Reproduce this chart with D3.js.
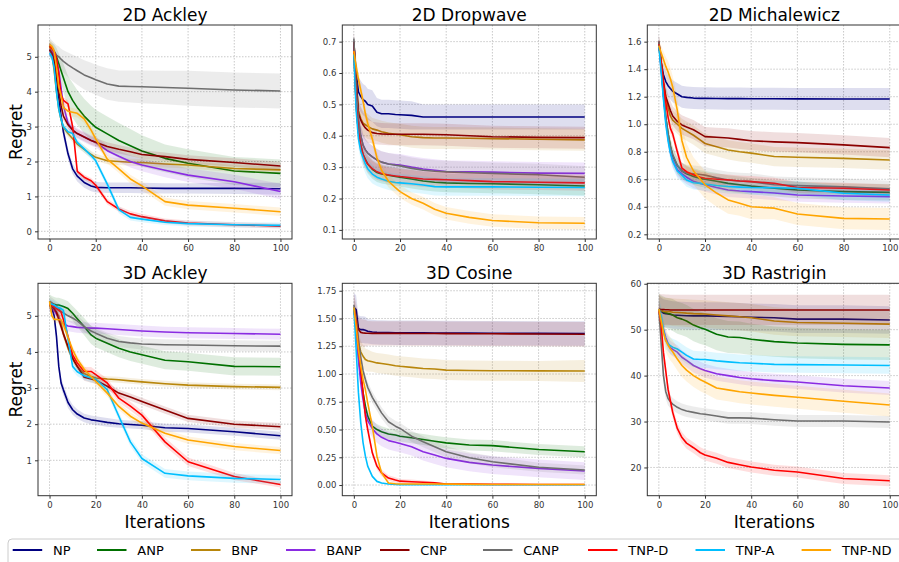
<!DOCTYPE html>
<html lang="en">
<head>
<meta charset="UTF-8">
<title>Regret curves</title>
<script src="https://d3js.org/d3.v7.min.js"></script>
<style>
  body { margin: 0; background: #fff; }
  svg text { font-family: "DejaVu Sans", sans-serif; }
</style>
</head>
<body>
<svg id="chart" width="899" height="562"></svg>
<script>
// iterations at which the curves were read
const iters = [0, 1, 2, 3, 4, 5, 6, 8, 10, 12, 15, 18, 20, 25, 30, 35, 40, 50, 60, 80, 100];
const methods = ["NP", "ANP", "BNP", "BANP", "CNP", "CANP", "TNP-D", "TNP-A", "TNP-ND"];
const colors = ["#000080", "#007000", "#b8860b", "#8a2be2", "#8b0000", "#6e6e6e", "#ff0000", "#00bfff", "#ffa500"];
const xTicks = [0, 20, 40, 60, 80, 100];

// ---- 2D Ackley (rows follow `methods`)
const ackley2dMean = [
  [5.2,5.1,4.85,4.4,3.8,3.3,2.85,2.22,1.79,1.58,1.4,1.3,1.26,1.25,1.25,1.25,1.24,1.23,1.23,1.23,1.22],
  [5.3,5.25,5.15,5.0,4.8,4.6,4.4,4.0,3.75,3.55,3.3,3.1,2.98,2.79,2.6,2.45,2.3,2.09,1.95,1.73,1.66],
  [5.3,5.1,4.6,4.0,3.5,3.2,2.98,2.8,2.65,2.5,2.35,2.2,2.12,2.02,2.0,1.98,1.97,1.93,1.9,1.8,1.76],
  [5.2,5.15,5.05,4.9,4.6,4.1,3.6,3.1,2.9,2.8,2.7,2.6,2.55,2.31,2.15,2.0,1.9,1.75,1.61,1.42,1.14],
  [5.2,5.1,4.9,4.5,4.0,3.6,3.3,3.05,2.9,2.8,2.7,2.6,2.55,2.43,2.35,2.28,2.2,2.14,2.06,1.97,1.87],
  [5.35,5.25,5.15,5.05,5.0,4.93,4.87,4.77,4.68,4.6,4.48,4.4,4.34,4.22,4.16,4.15,4.14,4.12,4.1,4.05,4.02],
  [5.3,5.25,5.15,4.95,4.5,3.9,3.75,3.65,3.0,1.72,1.55,1.45,1.32,0.85,0.64,0.5,0.42,0.3,0.24,0.19,0.15],
  [5.1,5.0,4.7,4.0,3.5,3.2,3.0,2.85,2.8,2.55,2.36,2.17,2.02,1.35,0.62,0.4,0.35,0.26,0.22,0.19,0.17],
  [5.35,5.3,5.17,4.7,4.13,3.9,3.55,3.44,3.41,3.38,3.22,2.9,2.65,2.07,1.79,1.5,1.3,0.85,0.75,0.66,0.56]
];
const ackley2dSd = [
  [0.2,0.2,0.2,0.2,0.2,0.2,0.18,0.16,0.15,0.15,0.15,0.15,0.15,0.15,0.15,0.15,0.15,0.15,0.15,0.16,0.17],
  [0.15,0.15,0.2,0.25,0.3,0.35,0.4,0.45,0.5,0.5,0.5,0.5,0.5,0.5,0.5,0.48,0.45,0.4,0.4,0.4,0.4],
  [0.15,0.15,0.15,0.15,0.12,0.12,0.12,0.1,0.1,0.1,0.1,0.1,0.1,0.1,0.1,0.1,0.1,0.1,0.1,0.1,0.1],
  [0.15,0.15,0.15,0.15,0.15,0.15,0.15,0.15,0.15,0.15,0.15,0.15,0.15,0.15,0.16,0.17,0.18,0.2,0.2,0.2,0.22],
  [0.15,0.15,0.15,0.15,0.15,0.12,0.12,0.12,0.12,0.12,0.12,0.12,0.12,0.12,0.12,0.12,0.12,0.12,0.12,0.12,0.12],
  [0.2,0.22,0.25,0.28,0.3,0.3,0.32,0.35,0.38,0.4,0.42,0.43,0.43,0.45,0.45,0.46,0.47,0.48,0.5,0.5,0.5],
  [0.1,0.1,0.1,0.1,0.1,0.1,0.1,0.1,0.1,0.08,0.08,0.08,0.08,0.08,0.08,0.08,0.08,0.07,0.07,0.07,0.07],
  [0.1,0.1,0.1,0.1,0.1,0.1,0.1,0.1,0.1,0.1,0.1,0.1,0.1,0.1,0.1,0.09,0.09,0.08,0.08,0.08,0.08],
  [0.12,0.12,0.12,0.12,0.12,0.12,0.12,0.12,0.12,0.12,0.12,0.12,0.12,0.12,0.12,0.12,0.12,0.12,0.12,0.12,0.12]
];
const ackley2dTicks = [0, 1, 2, 3, 4, 5];

// ---- 2D Dropwave
const dropwaveMean = [
  [0.69,0.6,0.54,0.525,0.515,0.51,0.5,0.495,0.475,0.47,0.47,0.468,0.467,0.465,0.46,0.46,0.46,0.46,0.46,0.46,0.46],
  [0.67,0.5,0.41,0.37,0.34,0.325,0.31,0.293,0.283,0.278,0.274,0.27,0.268,0.262,0.256,0.252,0.25,0.248,0.247,0.244,0.24],
  [0.7,0.58,0.48,0.455,0.44,0.435,0.43,0.422,0.418,0.413,0.408,0.405,0.403,0.397,0.394,0.393,0.393,0.392,0.391,0.389,0.387],
  [0.7,0.55,0.45,0.4,0.37,0.355,0.345,0.333,0.323,0.316,0.31,0.308,0.307,0.3,0.294,0.29,0.286,0.285,0.284,0.281,0.28],
  [0.7,0.58,0.47,0.45,0.435,0.425,0.418,0.41,0.407,0.406,0.405,0.405,0.405,0.405,0.405,0.404,0.403,0.4,0.397,0.395,0.394],
  [0.71,0.55,0.45,0.4,0.37,0.355,0.345,0.333,0.323,0.316,0.31,0.306,0.304,0.296,0.29,0.287,0.285,0.282,0.28,0.276,0.268],
  [0.67,0.5,0.41,0.37,0.34,0.322,0.31,0.295,0.285,0.28,0.275,0.272,0.27,0.266,0.262,0.261,0.26,0.257,0.254,0.252,0.25],
  [0.66,0.48,0.39,0.35,0.33,0.31,0.295,0.278,0.268,0.262,0.255,0.251,0.25,0.247,0.243,0.238,0.237,0.237,0.237,0.236,0.235],
  [0.67,0.62,0.58,0.545,0.51,0.47,0.44,0.39,0.33,0.29,0.255,0.235,0.222,0.2,0.185,0.166,0.153,0.14,0.13,0.123,0.121]
];
const dropwaveSd = [
  [0.03,0.05,0.05,0.05,0.05,0.05,0.05,0.05,0.045,0.045,0.045,0.045,0.045,0.045,0.04,0.04,0.04,0.04,0.04,0.04,0.04],
  [0.03,0.03,0.03,0.03,0.03,0.03,0.03,0.03,0.03,0.03,0.03,0.03,0.03,0.03,0.03,0.03,0.03,0.03,0.03,0.03,0.03],
  [0.03,0.04,0.04,0.04,0.04,0.04,0.04,0.035,0.035,0.035,0.035,0.035,0.035,0.035,0.035,0.035,0.035,0.035,0.035,0.035,0.035],
  [0.03,0.035,0.035,0.035,0.035,0.035,0.035,0.035,0.035,0.035,0.035,0.035,0.035,0.035,0.035,0.035,0.035,0.035,0.035,0.035,0.035],
  [0.03,0.04,0.04,0.04,0.04,0.04,0.04,0.035,0.035,0.035,0.035,0.035,0.035,0.035,0.035,0.035,0.035,0.035,0.035,0.035,0.035],
  [0.03,0.035,0.035,0.035,0.035,0.035,0.035,0.035,0.035,0.035,0.035,0.035,0.035,0.035,0.035,0.035,0.035,0.035,0.035,0.035,0.035],
  [0.02,0.03,0.03,0.03,0.03,0.025,0.025,0.025,0.025,0.025,0.025,0.025,0.025,0.025,0.025,0.025,0.025,0.025,0.025,0.025,0.025],
  [0.02,0.03,0.03,0.03,0.03,0.03,0.03,0.03,0.028,0.028,0.028,0.028,0.028,0.028,0.028,0.028,0.028,0.028,0.028,0.028,0.028],
  [0.02,0.02,0.02,0.02,0.02,0.02,0.02,0.02,0.02,0.02,0.02,0.02,0.02,0.02,0.02,0.02,0.02,0.02,0.02,0.02,0.02]
];
const dropwaveTicks = [0.1, 0.2, 0.3, 0.4, 0.5, 0.6, 0.7];

// ---- 2D Michalewicz
const michalewiczMean = [
  [1.58,1.45,1.36,1.31,1.28,1.26,1.24,1.22,1.2,1.195,1.19,1.188,1.188,1.187,1.186,1.186,1.185,1.185,1.184,1.183,1.183],
  [1.58,1.42,1.22,1.05,0.93,0.84,0.77,0.7,0.66,0.64,0.62,0.605,0.6,0.585,0.57,0.56,0.55,0.535,0.522,0.51,0.505],
  [1.6,1.45,1.3,1.2,1.12,1.06,1.03,1.0,0.97,0.95,0.92,0.885,0.86,0.837,0.813,0.8,0.79,0.765,0.76,0.752,0.74],
  [1.6,1.4,1.2,1.03,0.9,0.8,0.74,0.67,0.64,0.615,0.585,0.57,0.56,0.54,0.522,0.515,0.51,0.5,0.486,0.479,0.474],
  [1.6,1.45,1.3,1.2,1.15,1.1,1.06,1.02,0.995,0.98,0.96,0.93,0.91,0.905,0.9,0.89,0.88,0.872,0.866,0.85,0.83],
  [1.6,1.42,1.22,1.05,0.93,0.84,0.78,0.7,0.66,0.645,0.64,0.635,0.63,0.61,0.595,0.588,0.583,0.56,0.554,0.545,0.53],
  [1.58,1.45,1.3,1.16,1.05,0.97,0.93,0.8,0.68,0.655,0.632,0.615,0.607,0.6,0.595,0.588,0.583,0.571,0.54,0.535,0.522],
  [1.57,1.38,1.18,1.0,0.88,0.79,0.73,0.66,0.63,0.595,0.575,0.57,0.566,0.555,0.547,0.543,0.54,0.538,0.535,0.498,0.486],
  [1.57,1.52,1.47,1.42,1.38,1.33,1.27,1.1,0.88,0.76,0.66,0.6,0.56,0.5,0.45,0.425,0.4,0.39,0.348,0.316,0.311]
];
const michalewiczSd = [
  [0.05,0.07,0.08,0.08,0.08,0.08,0.08,0.08,0.08,0.08,0.08,0.08,0.08,0.08,0.08,0.08,0.08,0.08,0.08,0.08,0.08],
  [0.05,0.06,0.06,0.06,0.06,0.06,0.06,0.06,0.06,0.06,0.06,0.06,0.06,0.06,0.06,0.06,0.06,0.06,0.06,0.06,0.06],
  [0.05,0.07,0.07,0.07,0.07,0.07,0.07,0.07,0.07,0.07,0.07,0.07,0.07,0.07,0.07,0.07,0.07,0.07,0.07,0.07,0.07],
  [0.05,0.05,0.05,0.05,0.05,0.05,0.05,0.05,0.05,0.05,0.05,0.05,0.05,0.05,0.05,0.05,0.05,0.05,0.05,0.05,0.05],
  [0.05,0.07,0.07,0.07,0.07,0.07,0.07,0.07,0.07,0.07,0.07,0.07,0.07,0.07,0.07,0.07,0.07,0.07,0.07,0.07,0.07],
  [0.05,0.06,0.06,0.06,0.06,0.06,0.06,0.06,0.06,0.06,0.06,0.06,0.06,0.06,0.06,0.06,0.06,0.06,0.06,0.06,0.06],
  [0.04,0.04,0.04,0.04,0.04,0.04,0.04,0.04,0.04,0.04,0.04,0.04,0.04,0.04,0.04,0.04,0.04,0.04,0.04,0.04,0.04],
  [0.05,0.05,0.05,0.05,0.05,0.05,0.05,0.05,0.05,0.05,0.05,0.05,0.05,0.05,0.05,0.05,0.05,0.05,0.05,0.05,0.05],
  [0.04,0.05,0.06,0.07,0.08,0.08,0.08,0.09,0.1,0.1,0.1,0.1,0.1,0.1,0.1,0.09,0.09,0.08,0.08,0.08,0.08]
];
const michalewiczTicks = [0.2, 0.4, 0.6, 0.8, 1.0, 1.2, 1.4, 1.6];

// ---- 3D Ackley
const ackley3dMean = [
  [5.3,5.2,5.0,4.43,3.6,3.14,2.95,2.6,2.4,2.28,2.17,2.12,2.1,2.05,2.01,1.99,1.97,1.9,1.88,1.79,1.68],
  [5.4,5.35,5.32,5.3,5.3,5.28,5.26,5.2,5.07,4.92,4.7,4.47,4.38,4.24,4.1,4.0,3.92,3.77,3.73,3.6,3.59],
  [5.3,5.25,5.2,5.1,5.0,4.8,4.5,4.1,3.8,3.6,3.4,3.32,3.28,3.25,3.23,3.2,3.17,3.12,3.08,3.04,3.02],
  [5.3,5.25,5.15,5.05,4.95,4.85,4.78,4.72,4.7,4.68,4.67,4.66,4.66,4.64,4.62,4.6,4.58,4.55,4.53,4.51,4.49],
  [5.3,5.25,5.2,5.1,4.9,4.7,4.5,4.15,3.83,3.6,3.3,3.25,3.22,3.05,2.86,2.75,2.63,2.39,2.16,2.0,1.93],
  [5.4,5.35,5.3,5.25,5.2,5.12,5.08,5.0,4.94,4.86,4.7,4.58,4.52,4.38,4.29,4.25,4.22,4.2,4.19,4.17,4.16],
  [5.3,5.28,5.25,5.2,5.15,5.1,4.9,4.43,3.92,3.7,3.46,3.46,3.37,3.14,2.72,2.5,2.25,1.51,0.96,0.55,0.33],
  [5.35,5.32,5.3,5.25,5.22,5.2,5.15,4.34,3.6,3.45,3.34,3.28,3.25,2.95,2.22,1.51,1.05,0.64,0.57,0.5,0.47],
  [5.4,5.0,4.9,4.9,4.89,4.89,4.75,4.4,4.06,3.8,3.52,3.32,3.18,2.86,2.49,2.22,2.03,1.75,1.56,1.38,1.27]
];
const ackley3dSd = [
  [0.15,0.15,0.15,0.15,0.15,0.15,0.15,0.15,0.14,0.13,0.12,0.12,0.12,0.12,0.11,0.11,0.11,0.11,0.11,0.11,0.11],
  [0.2,0.2,0.2,0.2,0.2,0.2,0.2,0.2,0.2,0.22,0.24,0.25,0.25,0.25,0.25,0.25,0.25,0.25,0.25,0.25,0.25],
  [0.12,0.12,0.12,0.12,0.12,0.12,0.12,0.1,0.1,0.1,0.08,0.08,0.08,0.08,0.08,0.08,0.08,0.08,0.08,0.08,0.08],
  [0.15,0.15,0.15,0.15,0.15,0.15,0.15,0.15,0.15,0.15,0.15,0.15,0.15,0.15,0.15,0.15,0.15,0.15,0.15,0.15,0.15],
  [0.12,0.12,0.12,0.12,0.12,0.12,0.12,0.1,0.1,0.1,0.1,0.1,0.1,0.1,0.1,0.1,0.1,0.1,0.1,0.1,0.1],
  [0.15,0.15,0.15,0.15,0.15,0.15,0.15,0.15,0.15,0.15,0.15,0.15,0.15,0.15,0.15,0.15,0.15,0.15,0.15,0.15,0.15],
  [0.12,0.12,0.12,0.12,0.12,0.12,0.12,0.12,0.12,0.12,0.12,0.12,0.12,0.12,0.12,0.12,0.12,0.12,0.12,0.1,0.08],
  [0.12,0.12,0.12,0.12,0.12,0.12,0.12,0.12,0.12,0.12,0.12,0.12,0.12,0.12,0.12,0.12,0.12,0.12,0.12,0.12,0.12],
  [0.1,0.1,0.1,0.1,0.1,0.1,0.1,0.1,0.1,0.1,0.1,0.1,0.1,0.1,0.1,0.1,0.1,0.1,0.1,0.1,0.1]
];
const ackley3dTicks = [1, 2, 3, 4, 5];

// ---- 3D Cosine
const cosineMean = [
  [1.6,1.58,1.41,1.4,1.4,1.395,1.385,1.378,1.375,1.374,1.373,1.372,1.372,1.371,1.371,1.37,1.37,1.368,1.367,1.366,1.365],
  [1.6,1.4,1.16,0.98,0.83,0.71,0.62,0.53,0.5,0.48,0.46,0.45,0.44,0.426,0.41,0.395,0.38,0.36,0.355,0.32,0.3],
  [1.6,1.46,1.28,1.2,1.16,1.13,1.12,1.11,1.1,1.095,1.085,1.075,1.07,1.06,1.05,1.045,1.035,1.032,1.03,1.028,1.027],
  [1.6,1.4,1.13,0.92,0.77,0.65,0.58,0.51,0.46,0.43,0.4,0.385,0.375,0.345,0.3,0.27,0.24,0.204,0.18,0.15,0.126],
  [1.6,1.5,1.4,1.375,1.37,1.368,1.367,1.366,1.366,1.366,1.366,1.366,1.366,1.365,1.365,1.365,1.364,1.363,1.362,1.36,1.358],
  [1.62,1.5,1.31,1.15,1.03,0.95,0.88,0.79,0.72,0.65,0.57,0.53,0.51,0.44,0.39,0.345,0.3,0.246,0.21,0.16,0.135],
  [1.6,1.46,1.22,1.04,0.83,0.62,0.5,0.29,0.17,0.11,0.063,0.045,0.035,0.03,0.025,0.02,0.01,0.008,0.006,0.005,0.005],
  [1.6,1.22,0.83,0.56,0.38,0.26,0.17,0.078,0.033,0.018,0.009,0.005,0.004,0.003,0.003,0.003,0.003,0.003,0.003,0.003,0.003],
  [1.6,1.43,1.22,1.07,0.95,0.86,0.74,0.53,0.26,0.11,0.018,0.012,0.01,0.01,0.01,0.01,0.008,0.006,0.005,0.005,0.005]
];
const cosineSd = [
  [0.13,0.13,0.12,0.12,0.12,0.12,0.11,0.11,0.11,0.11,0.11,0.11,0.11,0.11,0.11,0.11,0.11,0.11,0.11,0.11,0.11],
  [0.05,0.05,0.05,0.05,0.05,0.05,0.05,0.05,0.05,0.05,0.05,0.05,0.05,0.05,0.05,0.05,0.05,0.05,0.05,0.05,0.05],
  [0.1,0.1,0.1,0.1,0.1,0.1,0.1,0.09,0.09,0.09,0.09,0.09,0.09,0.09,0.09,0.09,0.09,0.09,0.09,0.09,0.1],
  [0.08,0.08,0.08,0.08,0.08,0.08,0.08,0.08,0.08,0.08,0.08,0.08,0.08,0.08,0.08,0.08,0.08,0.08,0.08,0.08,0.08],
  [0.13,0.13,0.12,0.12,0.12,0.12,0.11,0.11,0.11,0.11,0.11,0.11,0.11,0.11,0.11,0.11,0.11,0.11,0.11,0.11,0.11],
  [0.05,0.05,0.05,0.05,0.05,0.05,0.05,0.05,0.05,0.05,0.05,0.05,0.05,0.05,0.05,0.05,0.05,0.05,0.05,0.04,0.04],
  [0.03,0.03,0.03,0.03,0.03,0.03,0.03,0.03,0.03,0.03,0.025,0.025,0.02,0.02,0.015,0.01,0.005,0.005,0.003,0.003,0.003],
  [0.01,0.01,0.01,0.01,0.01,0.01,0.01,0.01,0.01,0.005,0.005,0.003,0.003,0.003,0.003,0.003,0.003,0.003,0.003,0.003,0.003],
  [0.01,0.01,0.01,0.01,0.01,0.01,0.01,0.01,0.01,0.01,0.005,0.005,0.005,0.005,0.005,0.005,0.005,0.005,0.005,0.005,0.005]
];
const cosineTicks = [0, 0.25, 0.5, 0.75, 1.0, 1.25, 1.5, 1.75];

// ---- 3D Rastrigin
const rastriginMean = [
  [54.5,54,53.6,53.5,53.4,53.3,53.2,53.15,53.1,53.05,53.0,53.0,53.0,52.95,52.9,52.8,52.7,52.6,52.3,52.3,52.1],
  [54.5,54.2,53.9,53.7,53.5,53.4,53.2,52.6,52.3,51.9,51.0,50.4,50.1,49.0,48.4,48.3,47.9,47.4,47.1,46.8,46.7],
  [54.5,54.2,54.0,53.9,53.9,53.9,53.8,53.75,53.7,53.6,53.5,53.45,53.4,53.2,53.0,52.8,52.6,51.9,51.55,51.4,51.2],
  [54.5,52,50.1,48.3,47,46.1,45.7,45.1,44.0,43.3,42.2,41.5,41.1,40.4,40.0,39.6,39.3,38.9,38.6,37.8,37.3],
  [54.5,54.4,54.4,54.35,54.35,54.3,54.3,54.3,54.3,54.3,54.3,54.3,54.3,54.3,54.3,54.3,54.3,54.3,54.3,54.3,54.3],
  [54.5,47,40,36.5,35,34.3,33.8,33.1,32.6,32.3,32,31.7,31.6,31.2,30.8,30.8,30.75,30.4,30.1,30.1,29.9],
  [54.5,51,45,41,37,34.5,32,28.5,26.5,25.3,24.3,23.2,22.7,22.0,21.1,20.6,20.1,19.4,19.0,17.6,17.1],
  [54.5,53,50,47.6,47,46.5,46.2,45.8,45.1,44.4,43.6,43.5,43.5,43.2,43.0,42.8,42.7,42.45,42.4,42.3,42.2],
  [54.5,52,49.4,47.6,46.6,45.8,45.2,43.6,42.2,41.2,40.0,39.1,38.6,37.3,36.9,36.5,36.2,35.7,35.3,34.4,33.6]
];
const rastriginSd = [
  [3.0,3.0,3.0,3.0,3.0,3.0,3.0,3.0,3.0,3.0,3.0,3.0,3.0,3.0,3.0,3.0,3.0,3.0,3.0,3.0,3.0],
  [3.3,3.3,3.3,3.3,3.4,3.4,3.5,3.5,3.5,3.5,3.5,3.5,3.5,3.5,3.5,3.5,3.4,3.3,3.3,3.3,3.3],
  [3.0,3.0,3.0,3.0,3.0,3.0,3.0,3.0,3.0,3.0,3.0,3.0,3.0,3.0,3.0,3.0,3.0,3.0,3.0,3.0,3.0],
  [2.0,2.0,1.8,1.6,1.5,1.5,1.5,1.5,1.5,1.5,1.5,1.5,1.5,1.5,1.5,1.5,1.5,1.5,1.5,1.5,1.5],
  [3.3,3.3,3.3,3.3,3.3,3.3,3.3,3.3,3.3,3.3,3.3,3.3,3.3,3.3,3.3,3.3,3.3,3.3,3.3,3.3,3.3],
  [2.0,2.0,1.8,1.6,1.5,1.4,1.3,1.3,1.3,1.3,1.3,1.3,1.3,1.3,1.3,1.3,1.3,1.3,1.3,1.3,1.3],
  [1.5,1.5,1.5,1.5,1.4,1.3,1.3,1.2,1.2,1.2,1.2,1.2,1.2,1.2,1.2,1.2,1.2,1.2,1.2,1.2,1.2],
  [2.0,2.0,1.8,1.8,1.8,1.8,1.8,1.8,1.8,1.8,1.8,1.8,1.8,1.8,1.8,1.8,1.8,1.8,1.8,1.8,1.8],
  [2.0,2.2,2.4,2.5,2.5,2.5,2.5,2.5,2.5,2.5,2.5,2.5,2.5,2.5,2.5,2.5,2.5,2.5,2.5,2.5,2.5]
];
const rastriginTicks = [20, 30, 40, 50, 60];

const panels = [
  { title: "2D Ackley", mean: ackley2dMean, sd: ackley2dSd, ticks: ackley2dTicks, fmt: "d", domain: [-0.22, 5.91] },
  { title: "2D Dropwave", mean: dropwaveMean, sd: dropwaveSd, ticks: dropwaveTicks, fmt: ".1f", domain: [0.071, 0.753] },
  { title: "2D Michalewicz", mean: michalewiczMean, sd: michalewiczSd, ticks: michalewiczTicks, fmt: ".1f", domain: [0.166, 1.721] },
  { title: "3D Ackley", mean: ackley3dMean, sd: ackley3dSd, ticks: ackley3dTicks, fmt: "d", domain: [0.02, 5.9] },
  { title: "3D Cosine", mean: cosineMean, sd: cosineSd, ticks: cosineTicks, fmt: ".2f", domain: [-0.096, 1.817] },
  { title: "3D Rastrigin", mean: rastriginMean, sd: rastriginSd, ticks: rastriginTicks, fmt: "d", domain: [13.85, 60.1] }
];

// layout
const colLeft = [38, 342.3, 647.3], axW = 254;
const rowTop = [25, 283.3], rowH = [214, 212.4];
const legendX = [12.7, 97, 191, 286, 380, 483, 588, 695.5, 801.6];

const svg = d3.select("#chart");

panels.forEach((p, i) => {
  const c = i % 3, r = Math.floor(i / 3);
  const x0 = colLeft[c], y0 = rowTop[r], h = rowH[r];
  const x = d3.scaleLinear().domain([-5, 105]).range([x0, x0 + axW]);
  const y = d3.scaleLinear().domain(p.domain).range([y0 + h, y0]);
  const g = svg.append("g");

  // grid
  g.append("g").selectAll("line").data(xTicks).join("line")
    .attr("x1", d => x(d)).attr("x2", d => x(d)).attr("y1", y0).attr("y2", y0 + h)
    .attr("stroke", "#bbb").attr("stroke-width", 0.8).attr("stroke-dasharray", "1.5,1.5");
  g.append("g").selectAll("line").data(p.ticks).join("line")
    .attr("x1", x0).attr("x2", x0 + axW).attr("y1", d => y(d)).attr("y2", d => y(d))
    .attr("stroke", "#bbb").attr("stroke-width", 0.8).attr("stroke-dasharray", "1.5,1.5");

  const clipId = "clip" + i;
  svg.append("clipPath").attr("id", clipId).append("rect")
    .attr("x", x0).attr("y", y0).attr("width", axW).attr("height", h);
  const plot = g.append("g").attr("clip-path", `url(#${clipId})`);

  methods.forEach((m, k) => {
    const pts = iters.map((it, j) => ({ it, v: p.mean[k][j], s: p.sd[k][j] }));
    plot.append("path").datum(pts)
      .attr("fill", colors[k]).attr("fill-opacity", 0.13)
      .attr("d", d3.area().x(d => x(d.it)).y0(d => y(d.v - d.s)).y1(d => y(d.v + d.s)));
    plot.append("path").datum(pts)
      .attr("fill", "none").attr("stroke", colors[k]).attr("stroke-width", 1.6)
      .attr("stroke-linejoin", "round")
      .attr("d", d3.line().x(d => x(d.it)).y(d => y(d.v)));
  });

  // axes
  const xa = g.append("g").attr("transform", `translate(0,${y0 + h})`)
    .call(d3.axisBottom(x).tickValues(xTicks).tickSize(3).tickPadding(3));
  const ya = g.append("g").attr("transform", `translate(${x0},0)`)
    .call(d3.axisLeft(y).tickValues(p.ticks).tickFormat(d3.format(p.fmt)).tickSize(3).tickPadding(3));
  [xa, ya].forEach(a => {
    a.select(".domain").remove();
    a.selectAll("line").attr("stroke", "#333");
    a.selectAll("text").attr("fill", "#333").style("font-size", "8.5px");
  });
  g.append("rect").attr("x", x0).attr("y", y0).attr("width", axW).attr("height", h)
    .attr("fill", "none").attr("stroke", "#333").attr("stroke-width", 1);

  g.append("text").attr("x", x0 + axW / 2).attr("y", y0 - 4)
    .attr("text-anchor", "middle").style("font-size", "17px").attr("fill", "#000").text(p.title);
  if (c === 0) {
    g.append("text").attr("transform", `translate(21.5,${y0 + h / 2}) rotate(-90)`)
      .attr("text-anchor", "middle").style("font-size", "17px").attr("fill", "#000").text("Regret");
  }
  if (r === 1) {
    g.append("text").attr("x", x0 + axW / 2).attr("y", 528)
      .attr("text-anchor", "middle").style("font-size", "17px").attr("fill", "#000").text("Iterations");
  }
});

// legend
const leg = svg.append("g");
leg.append("rect").attr("x", 8).attr("y", 539).attr("width", 900).attr("height", 30).attr("rx", 4)
  .attr("fill", "#fff").attr("stroke", "#ccc");
methods.forEach((m, k) => {
  const lx = legendX[k];
  leg.append("line").attr("x1", lx).attr("x2", lx + 29.5).attr("y1", 550).attr("y2", 550)
    .attr("stroke", colors[k]).attr("stroke-width", 2);
  leg.append("text").attr("x", lx + 40.3).attr("y", 554.7).style("font-size", "13px")
    .attr("fill", "#000").text(m);
});
</script>
</body>
</html>
